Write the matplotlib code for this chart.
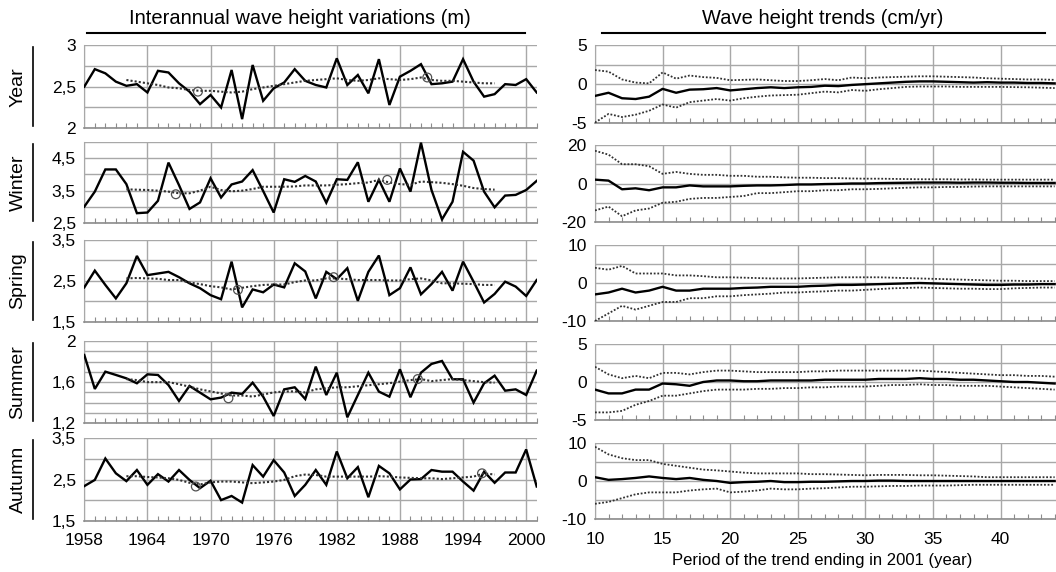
import numpy as np
import matplotlib
matplotlib.use('Agg')
import matplotlib.pyplot as plt
from matplotlib.lines import Line2D

plt.rcParams['font.family'] = ['Liberation Sans', 'DejaVu Sans']

W, H = 1056, 572

####################################################################################
### Data: interannual wave height (m), 1958-2001
####################################################################################
years = list(range(1958, 2002))
years_ma = list(range(1962, 1998))

year_hs = [2.50, 2.71, 2.66, 2.56, 2.51, 2.53, 2.43, 2.69, 2.67, 2.54, 2.44, 2.29, 2.40, 2.25,
           2.70, 2.11, 2.76, 2.33, 2.48, 2.55, 2.71, 2.57, 2.52, 2.49, 2.84, 2.52, 2.64, 2.42,
           2.83, 2.28, 2.62, 2.69, 2.77, 2.53, 2.54, 2.56, 2.83, 2.56, 2.38, 2.41, 2.53, 2.52,
           2.59, 2.43]
winter_hs = [3.01, 3.47, 4.15, 4.15, 3.70, 2.81, 2.83, 3.19, 4.36, 3.67, 2.94, 3.14, 3.88, 3.29,
             3.69, 3.78, 4.13, 3.49, 2.83, 3.85, 3.77, 3.95, 3.78, 3.13, 3.85, 3.83, 4.37, 3.16,
             3.83, 3.16, 4.18, 3.47, 4.97, 3.52, 2.62, 3.16, 4.69, 4.42, 3.47, 2.99, 3.35, 3.37,
             3.52, 3.80]
spring_hs = [2.34, 2.75, 2.40, 2.07, 2.44, 3.11, 2.64, 2.68, 2.72, 2.59, 2.44, 2.32, 2.15, 2.05,
             2.97, 1.85, 2.29, 2.22, 2.41, 2.34, 2.93, 2.73, 2.07, 2.72, 2.54, 2.81, 2.01, 2.72,
             3.12, 2.15, 2.32, 2.83, 2.17, 2.42, 2.72, 2.26, 2.97, 2.48, 1.97, 2.18, 2.48, 2.36,
             2.13, 2.52]
summer_hs = [1.864, 1.534, 1.702, 1.670, 1.637, 1.589, 1.676, 1.670, 1.572, 1.417, 1.563, 1.498,
             1.433, 1.450, 1.498, 1.485, 1.595, 1.459, 1.271, 1.530, 1.550, 1.436, 1.751, 1.475,
             1.692, 1.258, 1.475, 1.692, 1.508, 1.459, 1.725, 1.453, 1.692, 1.777, 1.806, 1.628,
             1.628, 1.401, 1.589, 1.663, 1.517, 1.530, 1.475, 1.712]
autumn_hs = [2.34, 2.49, 3.01, 2.65, 2.46, 2.73, 2.37, 2.63, 2.45, 2.73, 2.49, 2.29, 2.47, 2.00,
             2.10, 1.94, 2.85, 2.57, 2.97, 2.67, 2.10, 2.37, 2.73, 2.37, 3.18, 2.53, 2.80, 2.07,
             2.83, 2.65, 2.26, 2.50, 2.51, 2.73, 2.69, 2.69, 2.45, 2.23, 2.69, 2.42, 2.67, 2.67,
             3.23, 2.33]

# running mean curves (dotted), 1962-1997
year_ma = [2.58, 2.56, 2.54, 2.52, 2.49, 2.48, 2.46, 2.45, 2.45, 2.44, 2.43, 2.44, 2.47, 2.49,
           2.51, 2.53, 2.55, 2.57, 2.58, 2.59, 2.60, 2.58, 2.57, 2.58, 2.60, 2.59, 2.58, 2.59,
           2.61, 2.58, 2.57, 2.57, 2.56, 2.55, 2.54, 2.54]
winter_ma = [3.54, 3.53, 3.52, 3.50, 3.47, 3.42, 3.42, 3.50, 3.62, 3.52, 3.48, 3.50, 3.55, 3.62,
             3.62, 3.62, 3.63, 3.66, 3.66, 3.66, 3.68, 3.70, 3.73, 3.75, 3.83, 3.75, 3.70, 3.68,
             3.78, 3.76, 3.74, 3.70, 3.65, 3.58, 3.55, 3.53]
spring_ma = [2.56, 2.57, 2.56, 2.55, 2.52, 2.52, 2.46, 2.42, 2.37, 2.34, 2.29, 2.33, 2.37, 2.40,
             2.41, 2.41, 2.47, 2.51, 2.51, 2.56, 2.56, 2.54, 2.52, 2.52, 2.52, 2.51, 2.51, 2.54,
             2.56, 2.51, 2.44, 2.44, 2.43, 2.42, 2.40, 2.40]
summer_ma = [1.63, 1.62, 1.60, 1.60, 1.60, 1.58, 1.556, 1.53, 1.51, 1.49, 1.47, 1.47, 1.46, 1.48,
             1.50, 1.51, 1.51, 1.50, 1.53, 1.54, 1.55, 1.55, 1.56, 1.57, 1.58, 1.59, 1.605, 1.62,
             1.63, 1.61, 1.62, 1.63, 1.62, 1.61, 1.60, 1.595]
autumn_ma = [2.58, 2.58, 2.56, 2.55, 2.53, 2.49, 2.42, 2.38, 2.43, 2.45, 2.45, 2.43, 2.41, 2.43,
             2.45, 2.49, 2.58, 2.62, 2.61, 2.57, 2.57, 2.57, 2.57, 2.57, 2.58, 2.57, 2.55, 2.54,
             2.53, 2.53, 2.51, 2.53, 2.55, 2.57, 2.65, 2.62]

# circled points on the running mean
year_circ = ([1968.8, 1990.6], [2.44, 2.61])
winter_circ = ([1966.7, 1986.8], [3.39, 3.83])
spring_circ = ([1972.6, 1981.7], [2.28, 2.59])
summer_circ = ([1971.7, 1989.7], [1.443, 1.63])
autumn_circ = ([1968.6, 1995.8], [2.33, 2.65])

####################################################################################
### Data: trends (cm/yr) vs period length ending in 2001
####################################################################################
periods = list(range(10, 45))

year_tr = [-1.5, -1.1, -1.8, -1.9, -1.6, -0.6, -1.1, -0.7, -0.65, -0.5, -0.8, -0.65, -0.5, -0.4,
           -0.5, -0.4, -0.35, -0.2, -0.25, -0.1, 0.0, 0.1, 0.2, 0.3, 0.35, 0.35, 0.3, 0.25, 0.2,
           0.25, 0.2, 0.2, 0.15, 0.15, 0.1]
year_up = [1.8, 1.6, 0.6, 0.2, 0.1, 1.5, 0.7, 1.1, 0.9, 0.8, 0.5, 0.55, 0.6, 0.5, 0.4, 0.4, 0.5,
           0.65, 0.5, 0.85, 0.75, 0.85, 0.9, 0.95, 1.0, 1.0, 0.95, 0.9, 0.85, 0.75, 0.7, 0.65,
           0.6, 0.6, 0.55]
year_lo = [-4.9, -3.8, -4.2, -3.9, -3.4, -2.6, -3.0, -2.3, -2.1, -1.9, -2.1, -1.8, -1.6, -1.45,
           -1.4, -1.35, -1.15, -0.95, -1.05, -0.75, -0.85, -0.65, -0.5, -0.35, -0.3, -0.3, -0.3,
           -0.35, -0.35, -0.35, -0.35, -0.38, -0.4, -0.45, -0.5]

winter_tr = [2.0, 1.5, -3.0, -2.5, -3.5, -2.0, -2.0, -1.0, -1.5, -1.5, -1.5, -1.2, -1.0, -1.0,
             -0.8, -0.5, -0.5, -0.3, -0.2, 0.0, 0.0, 0.2, 0.3, 0.4, 0.5, 0.5, 0.5, 0.4, 0.5, 0.5,
             0.4, 0.4, 0.3, 0.3, 0.3]
winter_up = [17, 15, 10, 10, 9, 5, 6, 5, 4.5, 4.5, 4, 4, 3.5, 3.5, 3.2, 3, 3, 2.8, 2.8, 2.6, 2.5,
             2.5, 2.4, 2.3, 2.2, 2.2, 2.2, 2.1, 2.1, 2.0, 2.0, 2.0, 2.0, 2.0, 2.0]
winter_lo = [-14, -12, -17, -14, -13, -10, -9.5, -8, -7.5, -7.5, -7, -6.5, -5, -5, -4.5, -4, -4,
             -3.5, -3.5, -3, -3, -2.8, -2.5, -2.2, -2, -2, -1.8, -1.8, -1.6, -1.5, -1.5, -1.5,
             -1.5, -1.5, -1.5]

spring_tr = [-3, -2.5, -1.5, -2.5, -2, -1, -2, -2, -1.5, -1.5, -1.5, -1.3, -1.2, -1.0, -1.0, -1.0,
             -0.8, -0.7, -0.5, -0.5, -0.4, -0.3, -0.2, -0.1, 0.0, -0.1, -0.2, -0.3, -0.4, -0.5,
             -0.5, -0.4, -0.4, -0.3, -0.3]
spring_up = [4, 3.5, 4.5, 2.5, 2.5, 2.5, 2, 2, 1.8, 1.5, 1.5, 1.4, 1.3, 1.2, 1.2, 1.2, 1.3, 1.4,
             1.5, 1.5, 1.5, 1.5, 1.4, 1.3, 1.2, 1.1, 1.0, 0.9, 0.8, 0.7, 0.6, 0.6, 0.5, 0.5, 0.5]
spring_lo = [-10, -8, -6, -7, -6, -5, -5, -4, -4, -3.5, -3.5, -3.2, -3, -2.8, -2.5, -2.5, -2.3,
             -2.2, -2.0, -2.0, -1.8, -1.6, -1.4, -1.3, -1.2, -1.3, -1.4, -1.5, -1.5, -1.6, -1.6,
             -1.4, -1.3, -1.2, -1.2]

summer_tr = [-1, -1.5, -1.5, -1, -1, -0.2, -0.3, -0.5, 0.0, 0.2, 0.2, 0.1, 0.1, 0.2, 0.2, 0.2,
             0.2, 0.3, 0.3, 0.3, 0.3, 0.4, 0.4, 0.4, 0.5, 0.4, 0.4, 0.3, 0.3, 0.2, 0.1, 0.0, 0.0,
             -0.1, -0.2]
summer_up = [2, 1, 0.5, 0.8, 0.5, 1.2, 1.2, 1.0, 1.3, 1.5, 1.5, 1.4, 1.3, 1.3, 1.3, 1.3, 1.4, 1.4,
             1.5, 1.5, 1.5, 1.5, 1.5, 1.5, 1.5, 1.4, 1.3, 1.2, 1.1, 1.0, 0.9, 0.9, 0.8, 0.8, 0.7]
summer_lo = [-4, -4, -3.8, -3, -2.5, -1.8, -1.8, -1.5, -1.2, -1, -1, -1, -0.9, -0.9, -0.8, -0.8,
             -0.7, -0.7, -0.6, -0.6, -0.6, -0.5, -0.4, -0.4, -0.3, -0.4, -0.4, -0.5, -0.5, -0.5,
             -0.6, -0.7, -0.8, -0.9, -1.0]

autumn_tr = [1, 0.3, 0.5, 0.8, 1.2, 0.8, 0.5, 0.8, 0.3, 0.0, -0.5, -0.3, -0.2, 0.0, -0.3, -0.3,
             -0.2, -0.2, -0.1, 0.0, 0.0, 0.1, 0.1, 0.0, 0.0, 0.0, 0.0, 0.0, 0.0, 0.0, 0.0, 0.0,
             0.0, 0.0, 0.0]
autumn_up = [9, 7, 6, 5.5, 5.5, 4.5, 4, 3.5, 3, 2.8, 2.5, 2.2, 2, 2, 2, 2, 1.8, 1.8, 1.7, 1.6,
             1.5, 1.6, 1.6, 1.6, 1.5, 1.5, 1.4, 1.3, 1.2, 1.0, 1.0, 1.0, 1.0, 1.0, 1.0]
autumn_lo = [-6, -5.5, -4.5, -3.5, -3, -3, -3, -2.5, -2.2, -2, -3, -2.8, -2.5, -2, -2.2, -2.2, -2,
             -1.9, -1.7, -1.5, -1.5, -1.4, -1.3, -1.3, -1.2, -1.2, -1.2, -1.1, -1.0, -1.0, -1.0,
             -1.0, -1.0, -1.0, -1.0]

row_names = ['Year', 'Winter', 'Spring', 'Summer', 'Autumn']
hs_series = [year_hs, winter_hs, spring_hs, summer_hs, autumn_hs]
ma_series = [year_ma, winter_ma, spring_ma, summer_ma, autumn_ma]
circ_series = [year_circ, winter_circ, spring_circ, summer_circ, autumn_circ]
tr_series = [(year_tr, year_up, year_lo), (winter_tr, winter_up, winter_lo),
             (spring_tr, spring_up, spring_lo), (summer_tr, summer_up, summer_lo),
             (autumn_tr, autumn_up, autumn_lo)]

# y axes: (limits, grid step, labelled ticks)
left_y = [((2, 3), 0.25, {2: '2', 2.5: '2,5', 3: '3'}),
          ((2.5, 5), 0.5, {2.5: '2,5', 3.5: '3,5', 4.5: '4,5'}),
          ((1.5, 3.5), 0.5, {1.5: '1,5', 2.5: '2,5', 3.5: '3,5'}),
          ((1.2, 2.0), 0.1, {1.2: '1,2', 1.6: '1,6', 2.0: '2'}),
          ((1.5, 3.5), 0.5, {1.5: '1,5', 2.5: '2,5', 3.5: '3,5'})]
right_y = [((-5, 5), 2.5, {-5: '-5', 0: '0', 5: '5'}),
           ((-20, 20), 10, {-20: '-20', 0: '0', 20: '20'}),
           ((-10, 10), 5, {-10: '-10', 0: '0', 10: '10'}),
           ((-5, 5), 2.5, {-5: '-5', 0: '0', 5: '5'}),
           ((-10, 10), 5, {-10: '-10', 0: '0', 10: '10'})]

####################################################################################
### Figure
####################################################################################
fig = plt.figure(figsize=(W / 100, H / 100), dpi=100)
fig.patch.set_facecolor('white')


def px_rect(x0, x1, ytop, ybot):
    return [x0 / W, 1 - ybot / H, (x1 - x0) / W, (ybot - ytop) / H]


left_rows = [(45, 128.3), (141.7, 223.3), (240, 321.7), (341, 423.3), (438.3, 520.7)]
right_rows = [(45, 123.3), (145, 222), (245, 321), (344, 420), (443, 519)]

grid_c = '#a8a8a8'
spine_c = '#8c8c8c'


def style_axis(ax, ylim, step, labels):
    ax.set_ylim(*ylim)
    yt = np.arange(ylim[0], ylim[1] + step / 2, step)
    ax.set_yticks(yt)
    ax.set_yticklabels([labels.get(round(v, 3), '') for v in yt])
    ax.grid(True, color=grid_c, lw=1.0)
    ax.set_axisbelow(True)
    for s in ['top', 'right']:
        ax.spines[s].set_visible(False)
    ax.spines['left'].set_color(grid_c)
    ax.spines['bottom'].set_color(spine_c)
    ax.spines['bottom'].set_linewidth(1.2)
    ax.tick_params(axis='y', length=0, pad=6, labelsize=12.5)
    ax.tick_params(axis='x', which='major', length=0, labelsize=12.5, pad=9)
    ax.tick_params(axis='x', which='minor', direction='in', length=3.5, color=spine_c, width=0.8)


for i in range(5):
    # left: interannual variations
    ax = fig.add_axes(px_rect(84.3, 536.7, *left_rows[i]))
    ax.set_xlim(1958, 2001)
    ax.set_xticks(np.arange(1958, 2001, 6))
    ax.set_xticks(years, minor=True)
    style_axis(ax, *left_y[i])
    if i < 4:
        ax.set_xticklabels([])
    ax.plot(years, hs_series[i], c='k', lw=1.7, solid_joinstyle='miter', zorder=3)
    ax.plot(years_ma, ma_series[i], c='#303030', lw=1.5, ls=(0, (1, 1)), zorder=3)
    cx, cy = circ_series[i]
    ax.scatter(cx, cy, s=40, facecolors='none', edgecolors='#505050', lw=0.9, zorder=4)

    # right: trends
    ax2 = fig.add_axes(px_rect(595, 1056, *right_rows[i]))
    ax2.set_xlim(10, 44.1)
    ax2.set_xticks(np.arange(10, 45, 5))
    ax2.set_xticks(periods, minor=True)
    style_axis(ax2, *right_y[i])
    if i < 4:
        ax2.set_xticklabels([])
    tr, up, lo = tr_series[i]
    ax2.plot(periods, tr, c='k', lw=1.7, zorder=3)
    ax2.plot(periods, up, c='#303030', lw=1.3, ls=(0, (1, 1)), zorder=3)
    ax2.plot(periods, lo, c='#303030', lw=1.3, ls=(0, (1, 1)), zorder=3)

    # row label with bracket line
    ytop, ybot = left_rows[i]
    yc = (ytop + ybot) / 2
    fig.text(18 / W, 1 - yc / H, row_names[i], rotation=90, ha='center', va='center', fontsize=14)
    fig.add_artist(Line2D([33 / W, 33 / W], [1 - (ytop + 2) / H, 1 - (ybot - 2) / H],
                          color='k', lw=1.2))

# column headers
fig.text(300 / W, 1 - 19 / H, 'Interannual wave height variations (m)', ha='center', va='center',
         fontsize=14.5)
fig.add_artist(Line2D([87 / W, 525 / W], [1 - 32.5 / H, 1 - 32.5 / H], color='k', lw=1.5))
fig.text(823 / W, 1 - 19 / H, 'Wave height trends (cm/yr)', ha='center', va='center',
         fontsize=14.5)
fig.add_artist(Line2D([602 / W, 1045 / W], [1 - 32.5 / H, 1 - 32.5 / H], color='k', lw=1.5))

fig.text(822 / W, 1 - 561 / H, 'Period of the trend ending in 2001 (year)', ha='center',
         va='center', fontsize=12)

fig.savefig('out.png', dpi=100)
